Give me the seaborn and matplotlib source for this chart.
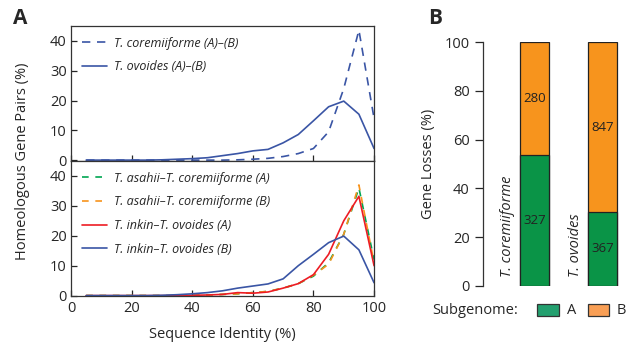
import matplotlib
matplotlib.use("Agg")
import matplotlib.pyplot as plt
import matplotlib.patches as mpatches
import numpy as np
import pandas as pd
import seaborn as sns

# sequence identity bins (%)
identity = [5, 10, 15, 20, 25, 30, 35, 40, 45, 50, 55, 60, 65, 70, 75, 80, 85, 90, 95, 100]

# panel A top: homeologous pairs within each hybrid (%)
cor_ab = [0, 0, 0, 0, 0, 0, 0, 0, 0, 0, 0.1, 0.3, 0.6, 1.2, 2.2, 3.9, 9.5, 24, 43.6, 14]
ovo_ab = [0, 0, 0, 0, 0, 0.1, 0.3, 0.5, 0.8, 1.5, 2.2, 3.1, 3.6, 5.8, 8.6, 13.2, 17.9, 19.8, 15.4, 3.9]

# panel A bottom: against the parental species (%)
asa_cor_a = [0, 0, 0, 0, 0, 0, 0, 0.1, 0.2, 0.4, 0.6, 1.0, 1.4, 2.5, 4.0, 6.5, 11.0, 20.5, 36.0, 12]
asa_cor_b = [0, 0, 0, 0, 0, 0, 0, 0.1, 0.2, 0.4, 0.6, 1.0, 1.4, 2.5, 4.0, 6.8, 10.5, 20.5, 37.0, 11]
ink_ovo_a = [0, 0, 0, 0, 0, 0, 0, 0.1, 0.2, 0.4, 1.0, 0.8, 1.2, 2.5, 4.0, 7.0, 13.8, 25.0, 33.2, 10]
ink_ovo_b = [0, 0, 0, 0, 0, 0.1, 0.3, 0.6, 1.0, 1.6, 2.5, 3.2, 3.9, 5.6, 10.0, 13.8, 17.7, 19.9, 15.3, 4.3]

# panel B: gene losses per subgenome
species = ["T. coremiiforme", "T. ovoides"]
loss_a = [327, 367]
loss_b = [280, 847]

blue = "#3a55a5"
green = "#0a9447"
orange = "#f7941d"
red = "#ed1c24"

sns.set_style("ticks")
plt.rcParams["font.family"] = ["Open Sans", "DejaVu Sans"]
plt.rcParams["font.size"] = 10
plt.rcParams["axes.linewidth"] = 0.9

fig = plt.figure(figsize=(6.34, 3.45), dpi=100)
ax1 = fig.add_axes([0.112, 0.5333, 0.478, 0.3913])
ax2 = fig.add_axes([0.112, 0.1406, 0.478, 0.3927])

top = pd.DataFrame({"x": identity, "cor": cor_ab, "ovo": ovo_ab})
sns.lineplot(data=top, x="x", y="cor", ax=ax1, color=blue, lw=1.2,
             linestyle=(0, (5, 4)), label="T. coremiiforme (A)\u2013(B)")
sns.lineplot(data=top, x="x", y="ovo", ax=ax1, color=blue, lw=1.2,
             label="T. ovoides (A)\u2013(B)")

bot = pd.DataFrame({"x": identity, "ga": asa_cor_a, "gb": asa_cor_b,
                    "ia": ink_ovo_a, "ib": ink_ovo_b})
sns.lineplot(data=bot, x="x", y="ga", ax=ax2, color="#00a651", lw=1.2,
             linestyle=(0, (4, 4)), label="T. asahii\u2013T. coremiiforme (A)")
sns.lineplot(data=bot, x="x", y="gb", ax=ax2, color=orange, lw=1.2,
             linestyle=(0, (4, 4)), label="T. asahii\u2013T. coremiiforme (B)")
sns.lineplot(data=bot, x="x", y="ia", ax=ax2, color=red, lw=1.2,
             label="T. inkin\u2013T. ovoides (A)")
sns.lineplot(data=bot, x="x", y="ib", ax=ax2, color=blue, lw=1.2,
             label="T. inkin\u2013T. ovoides (B)")

for ax in (ax1, ax2):
    ax.set_xlim(0, 100)
    ax.set_ylim(-0.3, 45)
    ax.set_yticks([0, 10, 20, 30, 40])
    ax.set_xticks([0, 20, 40, 60, 80, 100])
    ax.tick_params(direction="in", length=4, width=0.9, labelsize=10.5, pad=3)
    ax.set_xlabel("")
    ax.set_ylabel("")
    for s in ax.spines.values():
        s.set_visible(True)
        s.set_color("#333333")
    ax.legend(loc="upper left", frameon=False, handlelength=2.0,
              handletextpad=0.6, labelspacing=0.85, borderaxespad=0.45,
              prop={"style": "italic", "size": 9})
ax1.tick_params(labelbottom=False)
ax2.set_xlabel("Sequence Identity (%)", fontsize=10.5, labelpad=8)
fig.text(0.035, 0.533, "Homeologous Gene Pairs (%)", rotation=90,
         ha="center", va="center", fontsize=10.5)

# panel B
ax3 = fig.add_axes([0.7618, 0.1719, 0.232, 0.7055])
tot = [a + b for a, b in zip(loss_a, loss_b)]
pct_a = [100 * a / t for a, t in zip(loss_a, tot)]
bars = pd.DataFrame({"sp": species, "all": [100, 100], "a": pct_a})
sns.barplot(data=bars, x="sp", y="all", ax=ax3, color=orange, width=0.425,
            edgecolor="#222222", linewidth=0.9, saturation=1)
sns.barplot(data=bars, x="sp", y="a", ax=ax3, color=green, width=0.425,
            edgecolor="#222222", linewidth=0.9, saturation=1)
ax3.set_xlim(-0.754, 1.398)
ax3.set_ylim(0, 100)
ax3.set_yticks([0, 20, 40, 60, 80, 100])
ax3.set_xticks([])
ax3.set_xlabel("")
ax3.set_ylabel("Gene Losses (%)", fontsize=10.5, labelpad=6)
ax3.tick_params(axis="y", direction="out", length=6, width=0.9, labelsize=10.5)
sns.despine(ax=ax3, bottom=True)
ax3.spines["left"].set_color("#333333")
for i in range(2):
    ax3.text(i, pct_a[i] / 2, str(loss_a[i]), ha="center", va="center", fontsize=9.5, color="#222222")
    ax3.text(i, (100 + pct_a[i]) / 2, str(loss_b[i]), ha="center", va="center", fontsize=9.5, color="#222222")
    ax3.text(i - 0.4, 3.5, species[i], rotation=90, ha="center", va="bottom",
             fontsize=10.5, style="italic")

# subgenome legend
fig.text(0.681, 0.101, "Subgenome:", ha="left", va="center", fontsize=10.5)
fig.patches.append(mpatches.Rectangle((0.847, 0.085), 0.035, 0.035, transform=fig.transFigure,
                                      facecolor="#23a06f", edgecolor="#333333", lw=0.9))
fig.text(0.894, 0.101, "A", ha="left", va="center", fontsize=10.5)
fig.patches.append(mpatches.Rectangle((0.927, 0.085), 0.034, 0.035, transform=fig.transFigure,
                                      facecolor="#f99f55", edgecolor="#333333", lw=0.9))
fig.text(0.973, 0.101, "B", ha="left", va="center", fontsize=10.5)

fig.text(0.02, 0.945, "A", fontsize=15, fontweight="bold", ha="left", va="center")
fig.text(0.675, 0.945, "B", fontsize=15, fontweight="bold", ha="left", va="center")

fig.savefig("out.png", dpi=100)
